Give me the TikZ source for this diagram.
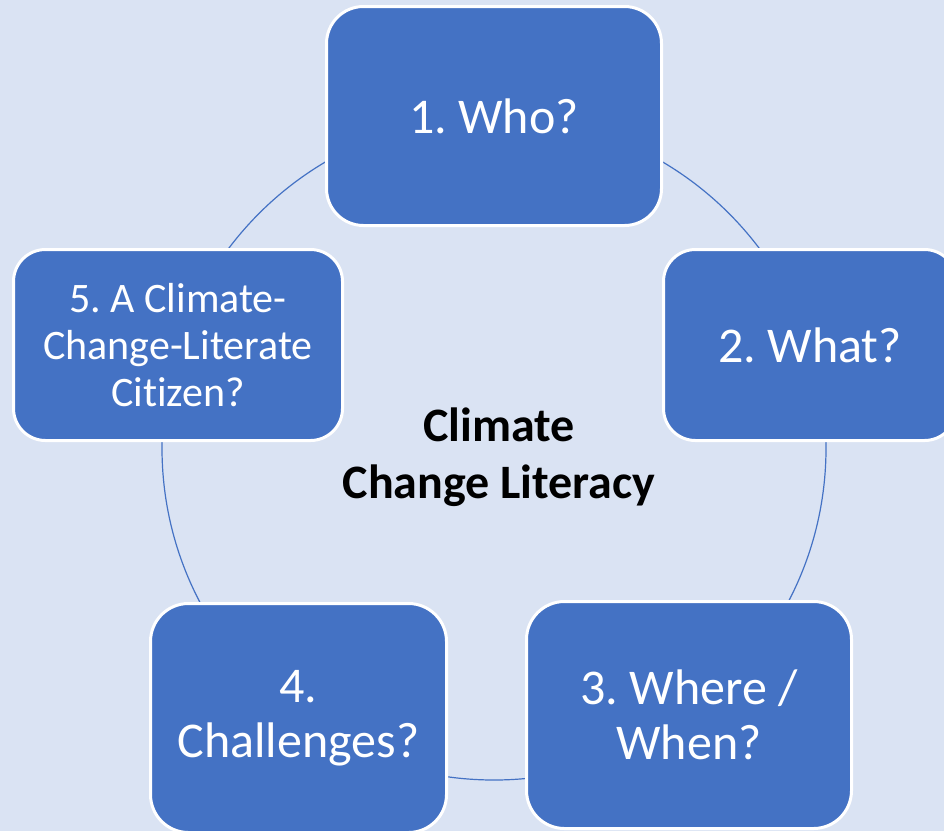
\documentclass[tikz,border=0pt]{standalone}
\usepackage{fontspec}
\setmainfont{Carlito}[Ligatures=NoCommon]
\frenchspacing
\definecolor{bgblue}{HTML}{DAE3F3}
\definecolor{boxblue}{HTML}{4472C4}
\begin{document}
\begin{tikzpicture}[x=1pt,y=-1pt,
  stage/.style={draw=white, line width=3pt, fill=boxblue, text=white,
    align=center, inner sep=0pt, font=\fontsize{50}{55}\selectfont},
  ring/.style={draw=boxblue, line width=1.2pt}]
% page background
\fill[bgblue] (0,0) rectangle (944,831);
\useasboundingbox (0,0) rectangle (944,831);
\clip (0,0) rectangle (944,831);
% cycle ring behind the stages
\coordinate (hub) at (494,448);
\draw[ring] (hub) circle[radius=332];
% the five stages
\node[stage, minimum width=335pt, minimum height=219pt, rounded corners=37pt]
  (who) at (494,116) {1. Who?};
\node[stage, minimum width=293pt, minimum height=191pt, rounded corners=32pt]
  (what) at (810,345) {2. What?};
\node[stage, minimum width=325pt, minimum height=227pt, rounded corners=38pt]
  (where) at (689,715) {3. Where /\\When?};
\node[stage, minimum width=296pt, minimum height=229pt, rounded corners=38pt]
  (challenges) at (298.5,718) {4.\\Challenges?};
\node[stage, font=\fontsize{42}{47}\selectfont,
  minimum width=329pt, minimum height=191pt, rounded corners=32pt]
  (citizen) at (178,345) {5. A Climate-\\Change-Literate\\Citizen?};
% centre title
\node[font=\bfseries\fontsize{48}{57}\selectfont, align=center, inner sep=0pt]
  (core) at (499,457) {Climate\\Change Literacy};
\end{tikzpicture}
\end{document}
